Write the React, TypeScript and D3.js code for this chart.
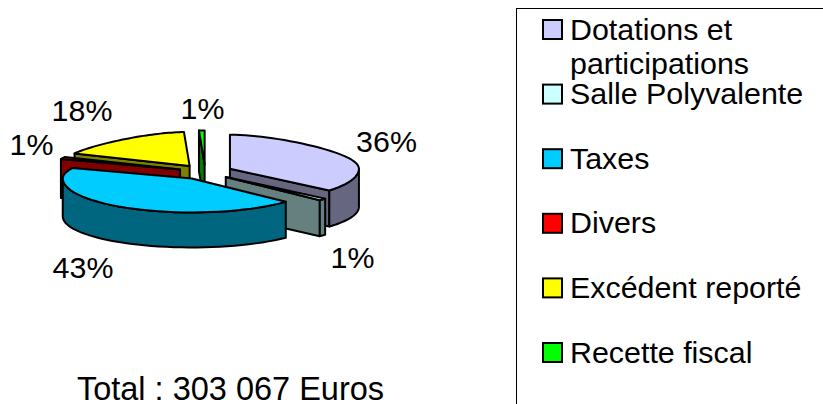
import React, { useEffect, useRef } from 'react';
import * as d3 from 'd3';

const categories = ['Dotations et|participations', 'Salle Polyvalente', 'Taxes', 'Divers', 'Excédent reporté', 'Recette fiscal'];
const values = [36, 1, 43, 1, 18, 1];
const colors = ['#ccccff', '#ccffff', '#00ccff', '#ff0000', '#ffff00', '#00ff00'];
const percentLabels = ['36%', '1%', '43%', '1%', '18%', '1%'];
const labelAnchors: [number, number][] = [[386.5, 152], [352.5, 268], [83, 278], [31.5, 155], [82, 121], [202.5, 119]];
const title = 'Total : 303 067 Euros';

// order in which the slices overlap each other
const drawOrder = [0, 5, 4, 3, 1, 2];

const W = 823;
const H = 404;
const font = '"Liberation Sans", Arial, sans-serif';

const App = () => {
    const svgRef = useRef<SVGSVGElement>(null);

    useEffect(() => {
        const svg = d3.select(svgRef.current);
        svg.selectAll('*').remove();

        const cx0 = 205.5, cy0 = 172;
        const rx = 129, ry = 34, depth = 38;
        const ryBottom = 31; // bottom ellipse looks flatter
        const explodeX = 27, explodeY = 7.5;

        const arcs = d3.pie<number>().sort(null)(values);
        const line = d3.line();

        // projection of an angle (clockwise from 12 o'clock) on the tilted ellipse,
        // the back of the pie is a bit narrower because of the perspective
        const rim = (c: [number, number], a: number, bottom = false): [number, number] => {
            const back = Math.max(Math.cos(a), 0);
            const x = c[0] + rx * Math.sin(a) * (1 - 0.3 * back * back);
            return bottom
                ? [x, c[1] + depth - ryBottom * Math.cos(a)]
                : [x, c[1] - ry * Math.cos(a)];
        };
        const rimPoints = (c: [number, number], a0: number, a1: number, bottom = false) =>
            d3.range(0, 41).map(i => rim(c, a0 + (a1 - a0) * i / 40, bottom));

        const shade = (col: string) => {
            const c = d3.rgb(col);
            return d3.rgb(c.r * 0.5, c.g * 0.5, c.b * 0.5).formatHex();
        };

        const pie = svg.append('g')
            .attr('stroke', '#000')
            .attr('stroke-width', 2)
            .attr('stroke-linejoin', 'round');

        drawOrder.forEach(i => {
            const d = arcs[i];
            const mid = (d.startAngle + d.endAngle) / 2;
            const c: [number, number] = [cx0 + explodeX * Math.sin(mid), cy0 - explodeY * Math.cos(mid)];
            const wall = shade(colors[i]);
            const s = d.startAngle, e = d.endAngle;
            const cDown: [number, number] = [c[0], c[1] + depth];

            // cut face on the starting edge, seen when the slice lies on the left side
            if (Math.sin(s) < 0) {
                pie.append('path').attr('fill', wall)
                    .attr('d', line([c, rim(c, s), rim(c, s, true), cDown]) + 'Z');
            }
            // cut face on the closing edge, seen when the slice lies on the right side
            if (Math.sin(e) > 0) {
                pie.append('path').attr('fill', wall)
                    .attr('d', line([c, rim(c, e), rim(c, e, true), cDown]) + 'Z');
            }
            // outer wall, front half of the ellipse only
            const a0 = Math.max(s, Math.PI / 2), a1 = Math.min(e, Math.PI * 1.5);
            if (a1 > a0) {
                pie.append('path').attr('fill', wall)
                    .attr('d', line([...rimPoints(c, a0, a1), ...rimPoints(c, a1, a0, true)]) + 'Z');
            }
            // top face
            pie.append('path').attr('fill', colors[i])
                .attr('d', line([c, ...rimPoints(c, s, e)]) + 'Z');
        });

        svg.append('g')
            .attr('font-family', font).attr('font-size', 30.4).attr('fill', '#000')
            .attr('text-anchor', 'middle')
            .selectAll('text')
            .data(percentLabels)
            .join('text')
            .attr('x', (_, i) => labelAnchors[i][0])
            .attr('y', (_, i) => labelAnchors[i][1])
            .text(d => d);

        svg.append('text')
            .attr('x', 230.5).attr('y', 400)
            .attr('font-family', font).attr('font-size', 32.5).attr('fill', '#000')
            .attr('text-anchor', 'middle')
            .text(title);

        // legend box runs off the right and bottom of the picture
        svg.append('rect')
            .attr('x', 516.5).attr('y', 8.5)
            .attr('width', W).attr('height', H)
            .attr('fill', 'none').attr('stroke', '#000').attr('stroke-width', 1);

        const legendY = d3.scaleLinear().domain([0, 5]).range([19, 342]);
        const legend = svg.append('g').attr('font-family', font).attr('font-size', 30.4).attr('fill', '#000');
        const rows = legend.selectAll('g')
            .data(categories)
            .join('g')
            .attr('transform', (_, i) => `translate(0,${legendY(i)})`);
        rows.append('rect')
            .attr('x', 543).attr('y', 1)
            .attr('width', 19).attr('height', 19)
            .attr('fill', (_, i) => colors[i])
            .attr('stroke', '#000').attr('stroke-width', 2);
        rows.each(function (d) {
            d.split('|').forEach((t, k) => {
                d3.select(this).append('text')
                    .attr('x', 570).attr('y', 20.5 + k * 34)
                    .text(t);
            });
        });
    }, []);

    return (
        <svg ref={svgRef} width={W} height={H}
            style={{ position: 'absolute', left: 0, top: 0, background: '#fff' }} />
    );
};

export default App;
